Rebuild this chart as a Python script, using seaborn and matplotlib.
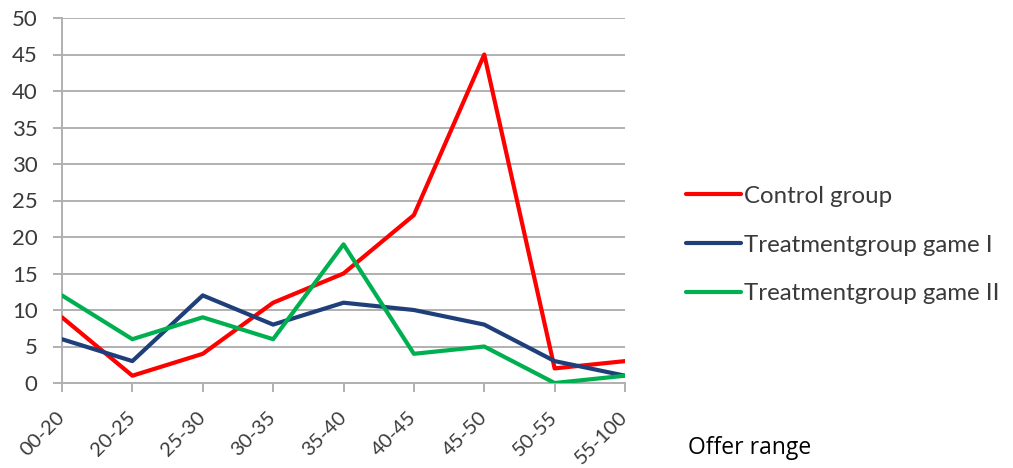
import matplotlib
matplotlib.use("Agg")
import matplotlib.pyplot as plt
import seaborn as sns
import pandas as pd

offer_ranges = ["00-20", "20-25", "25-30", "30-35", "35-40", "40-45", "45-50", "50-55", "55-100"]
control_group = [9, 1, 4, 11, 15, 23, 45, 2, 3]
treatment_game_1 = [6, 3, 12, 8, 11, 10, 8, 3, 1]
treatment_game_2 = [12, 6, 9, 6, 19, 4, 5, 0, 1]
series_names = ["Control group", "Treatmentgroup game I", "Treatmentgroup game II"]
y_ticks = [0, 5, 10, 15, 20, 25, 30, 35, 40, 45, 50]

sns.set_theme(style="white")
plt.rcParams["font.family"] = ["Lato", "DejaVu Sans"]

rows = []
for name, vals in zip(series_names, [control_group, treatment_game_1, treatment_game_2]):
    for cat, v in zip(offer_ranges, vals):
        rows.append({"Offer range": cat, "Count": v, "Series": name})
df = pd.DataFrame(rows)

palette = {"Control group": "#FF0000",
           "Treatmentgroup game I": "#1F3F7A",
           "Treatmentgroup game II": "#00B050"}

fig = plt.figure(figsize=(10.13, 4.68), dpi=100)
ax = fig.add_axes([62 / 1013, 1 - 383 / 468, (625 - 62) / 1013, (383 - 18) / 468])

sns.lineplot(data=df, x="Offer range", y="Count", hue="Series", palette=palette,
             linewidth=3.0, ax=ax, sort=False, legend=True, zorder=3)

ax.set_xlim(0, len(offer_ranges) - 1)
ax.set_ylim(0, 50)
ax.set_yticks(y_ticks)
ax.set_xticks(range(len(offer_ranges)))
ax.set_xticklabels(offer_ranges, rotation=45, ha="right", va="center",
                   rotation_mode="anchor")
ax.set_xlabel("")
ax.set_ylabel("")

grid_color = "#B0B0B0"
ax.yaxis.grid(True, color=grid_color, linewidth=1.4, zorder=0)
ax.xaxis.grid(False)
for side in ["top", "right"]:
    ax.spines[side].set_visible(False)
ax.spines["left"].set_color(grid_color)
ax.spines["bottom"].set_color(grid_color)
ax.spines["left"].set_linewidth(1.4)
ax.spines["bottom"].set_linewidth(1.4)
ax.tick_params(axis="both", which="both", direction="out", length=6.5, width=1.4,
               color=grid_color, labelcolor="#3A3A3A", labelsize=16,
               bottom=True, left=True)
ax.tick_params(axis="x", pad=16, labelsize=14.5)
ax.tick_params(axis="y", pad=11)

leg = ax.legend(loc="center left", bbox_to_anchor=(686 / 1013, 1 - 245 / 468),
                bbox_transform=fig.transFigure, frameon=False, fontsize=17.3,
                handlelength=2.3, handletextpad=0.12, labelspacing=1.15,
                borderaxespad=0, borderpad=0)
for t in leg.get_texts():
    t.set_color("#3A3A3A")
for h in leg.get_lines():
    h.set_linewidth(3.0)

fig.text(688 / 1013, 1 - 448 / 468, "Offer range", fontsize=16.5, color="#000000",
         family=["Open Sans", "DejaVu Sans"], va="center", ha="left")

fig.savefig("out.png", dpi=100, facecolor="white")
